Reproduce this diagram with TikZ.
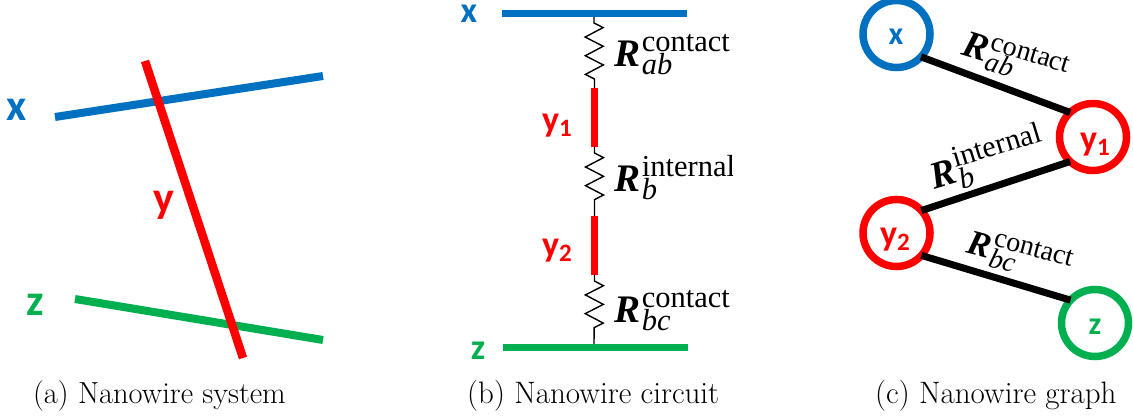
\documentclass[tikz,border=0pt]{standalone}
\usepackage{fontspec}
\usetikzlibrary{decorations.pathmorphing}
\newfontfamily\calb{Carlito}
\newfontfamily\rmath{Liberation Serif}
\definecolor{wblue}{HTML}{0070C0}
\definecolor{wred}{HTML}{FF0000}
\definecolor{wgreen}{HTML}{00B050}
% #1 subscript, #2 superscript, #3 text size, #4 size of R
\newcommand{\RL}[4]{\mbox{\rmath
  \fontsize{#3pt}{#3pt}\selectfont
  {\fontsize{#4pt}{#4pt}\selectfont\bfseries\itshape R}\hspace{0.06em}%
  \rlap{\raisebox{0.5em}{#2}}\raisebox{-0.25em}{\itshape #1}}}
\newcommand{\sublab}[3]{#1\raisebox{-0.12em}{\fontsize{#3pt}{#3pt}\selectfont #2}}
\tikzset{
  wire/.style={line width=7pt},
  lab/.style={font=\calb\bfseries\fontsize{36pt}{36pt}\selectfont,inner sep=0pt},
  labbig/.style={font=\calb\bfseries\fontsize{44pt}{44pt}\selectfont,inner sep=0pt},
  labc/.style={font=\calb\bfseries\fontsize{32pt}{32pt}\selectfont,inner sep=0pt},
  res/.style={line width=1.4pt,black,decorate,decoration={zigzag,segment length=18.67pt,amplitude=9pt,pre length=6pt,post length=8pt}},
  rtxt/.style={anchor=base west,inner sep=0pt,outer sep=0pt},
  captxt/.style={anchor=base west,inner sep=0pt,font=\fontsize{31pt}{31pt}\selectfont},
  vtx/.style={circle,draw=#1,line width=7.5pt,minimum size=67pt,inner sep=0pt,outer sep=0pt},
  edgeln/.style={line width=7pt,black}
}
\begin{document}
\begin{tikzpicture}[x=1pt,y=-1pt]
\useasboundingbox (0,0) rectangle (1133,419);
% --- panel a
\coordinate (ax1) at (55,117); \coordinate (ax2) at (323,76);
\coordinate (ay1) at (145,61); \coordinate (ay2) at (243,358);
\coordinate (az1) at (75,299); \coordinate (az2) at (323,340);
\draw[wire,wblue,line width=8pt] (ax1) -- (ax2);
\draw[wire,wgreen,line width=8pt] (az1) -- (az2);
\draw[wire,wred,line width=8.5pt] (ay1) -- (ay2);
\node[labbig,text=wblue] (lx) at (17,110) {x};
\node[labbig,text=wred] (ly) at (164,205) {y};
\node[labbig,text=wgreen] (lz) at (35,305) {z};
\node[captxt,font=\fontsize{30.5pt}{30.5pt}\selectfont] (capa) at (33,404) {(a) Nanowire system};
% --- panel b
\coordinate (bx1) at (502,14); \coordinate (bx2) at (687,14); \coordinate (bxm) at (594,17);
\coordinate (bz1) at (503,348); \coordinate (bz2) at (688,348); \coordinate (bzm) at (594,345);
\coordinate (ba1) at (594.5,88); \coordinate (ba2) at (594.5,147);
\coordinate (bb1) at (594.5,216); \coordinate (bb2) at (594.5,275);
\draw[res] (bxm) -- (ba1);
\draw[res] (ba2) -- (bb1);
\draw[res] (bb2) -- (bzm);
\draw[wire,wblue] (bx1) -- (bx2);
\draw[wire,wgreen] (bz1) -- (bz2);
\draw[wire,wred] (ba1) -- (ba2);
\draw[wire,wred] (bb1) -- (bb2);
\node[lab,text=wblue] (bl1) at (469,14) {x};
\node[lab,text=wred] (bl2) at (557,126) {\sublab{y}{1}{25}};
\node[lab,text=wred] (bl3) at (557,251) {\sublab{y}{2}{25}};
\node[lab,text=wgreen] (bl4) at (478,351) {z};
\node[rtxt] (br1) at (614,67) {\RL{ab}{contact}{30.5}{39}};
\begin{scope}
\clip (600,140) rectangle (732,215);
\node[rtxt] (br2) at (614,192) {\RL{b}{internal}{30.5}{39}};
\end{scope}
\node[rtxt] (br3) at (614,323) {\RL{bc}{contact}{30.5}{39}};
\node[captxt] (capb) at (467,404) {(b) Nanowire circuit};
% --- panel c
\node[vtx=wblue] (cx) at (896.5,34) {};
\node[vtx=wred] (cy1) at (1093,137) {};
\node[vtx=wred] (cy2) at (896.5,233) {};
\node[vtx=wgreen] (cz) at (1095,323) {};
\node[labc,text=wblue] (tx) at (896,37) {x};
\node[lab,text=wred] (ty1) at (1095,145) {\sublab{y}{1}{25}};
\node[lab,text=wred] (ty2) at (895,240) {\sublab{y}{2}{25}};
\node[labc,text=wgreen] (tz) at (1095,327) {z};
\draw[edgeln] (cx.-43) -- (cy1.133);
\draw[edgeln] (cy1.-133) -- (cy2.42);
\draw[edgeln] (cy2.-42) -- (cz.137);
\node[rtxt,rotate=-17] (cr1) at (960,55) {\RL{ab}{contact}{28}{38}};
\node[rtxt,rotate=17] (cr2) at (934,190) {\RL{b}{internal}{30}{38}};
\node[rtxt,rotate=-15] (cr3) at (965,253) {\RL{bc}{contact}{28}{35}};
\node[captxt] (capc) at (875,404) {(c) Nanowire graph};
\end{tikzpicture}
\end{document}
